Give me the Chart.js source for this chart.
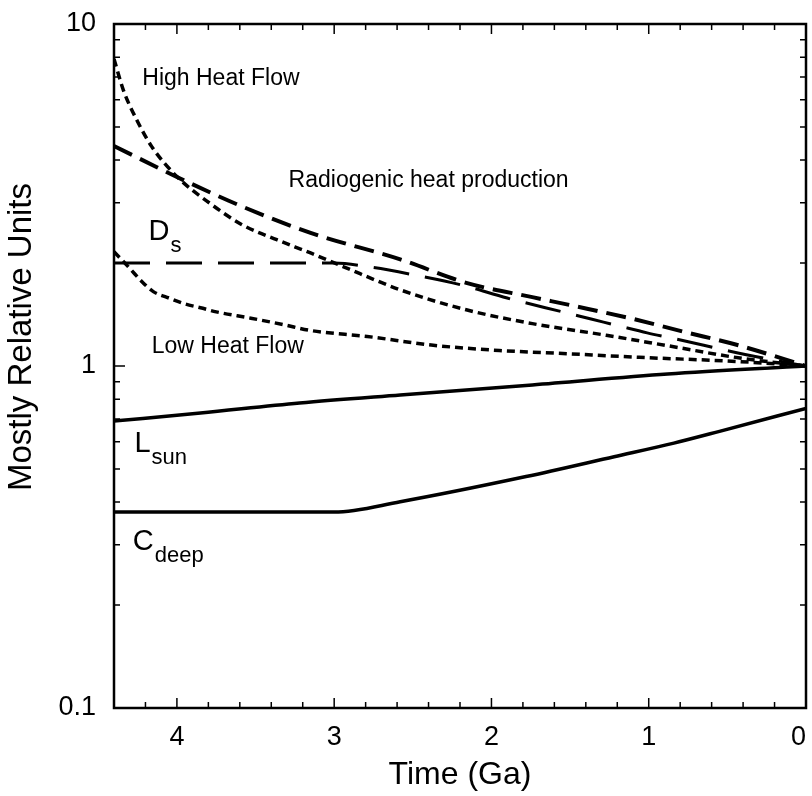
<!DOCTYPE html>
<html>
<head>
<meta charset="utf-8">
<script src="https://cdn.jsdelivr.net/npm/chart.js@4.4.1/dist/chart.umd.min.js"></script>
<style>
  html, body { margin: 0; padding: 0; background: #fff; }
  #wrap { width: 812px; height: 796px; }
</style>
</head>
<body>
<div id="wrap"><canvas id="heatChart" width="812" height="796"></canvas></div>
<script>
// Time runs from 4.4 Ga (left) to today (right); values relative to present
const xTicks = [4, 3, 2, 1, 0];
const yTicks = [0.1, 1, 10];

const highHeatT = [4.4, 4.34, 4.255, 4.16, 4.0, 3.79, 3.58, 3.365, 3.15, 2.94, 2.58, 2.16, 1.74, 1.27, 0.85, 0.42, 0];
const highHeatV = [7.9, 6.4, 5.24, 4.38, 3.58, 2.99, 2.58, 2.34, 2.14, 1.95, 1.67, 1.46, 1.33, 1.23, 1.14, 1.055, 1.0];

const lowHeatT = [4.4, 4.3, 4.22, 4.15, 4.05, 3.95, 3.85, 3.75, 3.53, 3.32, 3.15, 2.79, 2.37, 1.95, 1.58, 1.06, 0.42, 0];
const lowHeatV = [2.16, 1.93, 1.76, 1.65, 1.58, 1.52, 1.48, 1.44, 1.38, 1.32, 1.27, 1.22, 1.15, 1.11, 1.09, 1.06, 1.03, 1.0];

const radioT = [4.4, 4.0, 3.58, 3.15, 2.58, 2.16, 1.74, 1.48, 1.12, 0.78, 0.43, 0];
const radioV = [4.4, 3.57, 2.92, 2.45, 2.05, 1.75, 1.59, 1.5, 1.38, 1.26, 1.15, 1.0];

const dsT = [4.4, 3.0, 2.75, 2.5, 2.2, 1.9, 1.55, 1.36, 1.19, 1.01, 0.83, 0.65, 0.49, 0.25, 0];
const dsV = [2.0, 2.0, 1.94, 1.85, 1.73, 1.58, 1.44, 1.37, 1.31, 1.25, 1.2, 1.15, 1.106, 1.05, 1.0];

const lsunT = [4.4, 3.85, 3.22, 2.58, 1.74, 0.88, 0];
const lsunV = [0.69, 0.729, 0.78, 0.823, 0.88, 0.947, 1.0];

const cdeepT = [4.4, 3.0, 2.58, 1.78, 1.22, 0.84, 0.55, 0];
const cdeepV = [0.374, 0.374, 0.401, 0.475, 0.543, 0.595, 0.644, 0.752];

const toPoints = (ts, vs) => ts.map((t, i) => ({ x: t, y: vs[i] }));

// in-plot labels, anchored in data units (left edge, baseline)
const curveLabels = [
  { text: 'High Heat Flow', t: 4.22, v: 6.63, size: 23 },
  { text: 'Radiogenic heat production', t: 3.29, v: 3.34, size: 23 },
  { text: 'D', sub: 's', t: 4.18, v: 2.34, size: 29 },
  { text: 'Low Heat Flow', t: 4.16, v: 1.09, size: 23 },
  { text: 'L', sub: 'sun', t: 4.27, v: 0.56, size: 29 },
  { text: 'C', sub: 'deep', t: 4.28, v: 0.29, size: 29 }
];

const FONT = '"Liberation Sans", Arial, Helvetica, sans-serif';
Chart.defaults.font.family = FONT;
Chart.defaults.color = '#000';

const frameAndLabels = {
  id: 'frameAndLabels',
  afterDraw(chart) {
    const { ctx, chartArea: a, scales: { x, y } } = chart;
    ctx.save();
    ctx.strokeStyle = '#000';
    ctx.lineWidth = 1.5;
    ctx.beginPath();
    // time ticks every 0.2 Ga, longer at whole Ga
    for (let i = 0; i <= 22; i++) {
      const px = x.getPixelForValue(i / 5);
      const len = i % 5 === 0 ? 10 : 6;
      ctx.moveTo(px, a.bottom); ctx.lineTo(px, a.bottom - len);
      ctx.moveTo(px, a.top); ctx.lineTo(px, a.top + len);
    }
    // log ticks
    [0.1, 1].forEach(d => {
      for (let k = 1; k <= 9; k++) {
        const py = y.getPixelForValue(d * k);
        const len = k === 1 ? 11 : 6;
        ctx.moveTo(a.left, py); ctx.lineTo(a.left + len, py);
        ctx.moveTo(a.right, py); ctx.lineTo(a.right - len, py);
      }
    });
    ctx.stroke();
    ctx.lineWidth = 2.5;
    ctx.strokeRect(a.left, a.top, a.right - a.left, a.bottom - a.top);

    ctx.fillStyle = '#000';
    ctx.textBaseline = 'alphabetic';
    ctx.textAlign = 'left';
    curveLabels.forEach(l => {
      const px = x.getPixelForValue(l.t);
      const py = y.getPixelForValue(l.v);
      ctx.font = l.size + 'px ' + FONT;
      ctx.fillText(l.text, px, py);
      if (l.sub) {
        const w = ctx.measureText(l.text).width;
        ctx.font = '22px ' + FONT;
        ctx.fillText(l.sub, px + w + 1, py + 12);
      }
    });

    // y axis title sits a little above the plot centre in the original
    ctx.translate(22, 337);
    ctx.rotate(-Math.PI / 2);
    ctx.textAlign = 'center';
    ctx.textBaseline = 'middle';
    ctx.font = '33px ' + FONT;
    ctx.fillText('Mostly Relative Units', 0, 0);
    ctx.restore();
  }
};

const line = (ts, vs, width, dash) => ({
  data: toPoints(ts, vs),
  borderColor: '#000',
  borderWidth: width,
  borderDash: dash,
  fill: false,
  pointRadius: 0,
  cubicInterpolationMode: 'monotone'
});

new Chart(document.getElementById('heatChart'), {
  type: 'line',
  data: {
    datasets: [
      line(highHeatT, highHeatV, 3.5, [8, 5]),
      line(lowHeatT, lowHeatV, 3.5, [8, 5]),
      line(radioT, radioV, 4, [20, 9]),
      line(dsT, dsV, 3, [36, 16]),
      line(lsunT, lsunV, 3.5, []),
      line(cdeepT, cdeepV, 3.5, [])
    ]
  },
  options: {
    responsive: false,
    animation: false,
    devicePixelRatio: 1,
    layout: { padding: { top: 24, right: 6, left: 0, bottom: 0 } },
    plugins: { legend: { display: false }, tooltip: { enabled: false } },
    scales: {
      x: {
        type: 'linear',
        reverse: true,
        min: 0,
        max: 4.4,
        afterBuildTicks: s => { s.ticks = xTicks.map(v => ({ value: v })); },
        afterFit: s => { s.height = 88; s.paddingLeft = 0; s.paddingRight = 0; },
        grid: { display: false },
        border: { display: false },
        // the "0" at the right edge is nudged left so it stays on the page
        ticks: { font: { size: 27 }, padding: 5, maxRotation: 0, autoSkip: false,
                 callback: v => v === 0 ? '0  ' : String(v) },
        title: { display: true, text: 'Time (Ga)', font: { size: 32 }, padding: { top: 0, bottom: 2 } }
      },
      y: {
        type: 'logarithmic',
        min: 0.1,
        max: 10,
        afterBuildTicks: s => { s.ticks = yTicks.map(v => ({ value: v })); },
        afterFit: s => { s.width = 114; s.paddingTop = 0; s.paddingBottom = 0; },
        grid: { display: false },
        border: { display: false },
        ticks: { font: { size: 27 }, padding: 10, callback: v => String(v) },
        title: { display: false }
      }
    }
  },
  plugins: [frameAndLabels]
});
</script>
</body>
</html>
